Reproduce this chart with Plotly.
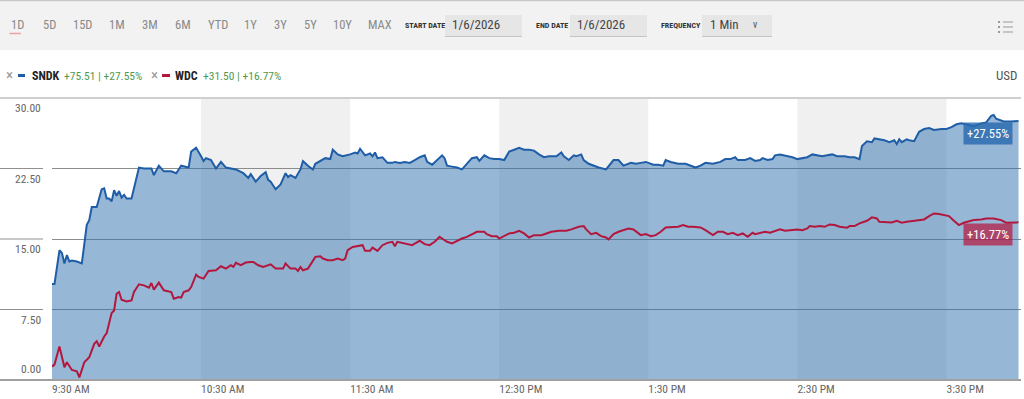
import pandas as pd
import plotly.graph_objects as go

# ---------------- data (percent change since 9:30 open, 1/6/2026) ----------------
sndk_minute = [0, 1, 3, 4, 5, 6, 7, 8, 10, 12, 14, 15, 16, 18, 20, 21, 22, 23, 24, 25, 26, 27, 28, 29, 30, 32,
               35, 37, 40, 41, 43, 45, 48, 50, 52, 55, 56, 58, 60, 61, 62, 64, 66, 68, 70, 72, 74, 77, 79, 80,
               82, 84, 86, 87, 88, 90, 92, 94, 95, 96, 98, 100, 101, 103, 105, 106, 108, 110, 112, 113, 115,
               117, 120, 122, 123, 124, 126, 128, 129, 130, 131, 133, 135, 137, 138, 140, 142, 144, 146, 148,
               150, 151, 153, 155, 157, 158, 159, 161, 163, 165, 167, 169, 171, 172, 174, 176, 178, 180, 182,
               184, 186, 188, 190, 192, 194, 196, 198, 200, 203, 205, 206, 208, 210, 211, 213, 214, 216, 218,
               220, 223, 225, 226, 228, 230, 233, 235, 237, 239, 242, 244, 246, 247, 249, 252, 255, 257, 259,
               261, 263, 266, 269, 271, 273, 275, 276, 279, 281, 283, 285, 286, 288, 290, 291, 293, 295, 298,
               300, 302, 304, 306, 308, 310, 312, 314, 316, 319, 321, 323, 325, 326, 328, 330, 331, 333, 335,
               337, 339, 340, 341, 342, 344, 345, 347, 349, 351, 353, 355, 358, 360, 362, 364, 366, 368, 371,
               374, 376, 378, 379, 380, 383, 386, 388, 389]
sndk_pct = [10.2, 10.2, 13.8, 13.5, 12.4, 13.3, 12.6, 12.7, 12.6, 12.4, 16.5, 17.0, 18.4, 18.4, 20.3, 20.4, 19.3,
            19.3, 19.0, 20.2, 19.6, 20.1, 19.4, 19.7, 19.3, 19.3, 22.6, 22.5, 22.5, 21.8, 22.8, 22.2, 22.2,
            22.0, 22.8, 22.6, 24.3, 24.7, 23.8, 23.3, 23.6, 23.4, 22.5, 23.2, 22.6, 22.5, 22.4, 22.0, 21.5,
            21.9, 21.1, 21.7, 22.1, 21.3, 21.1, 20.3, 20.8, 22.0, 21.6, 21.8, 21.5, 22.4, 23.3, 22.8, 22.4,
            23.0, 23.3, 23.6, 23.5, 24.5, 24.0, 23.8, 24.0, 24.2, 24.1, 24.6, 23.9, 24.1, 23.8, 24.2, 23.6,
            23.7, 23.1, 23.1, 23.2, 23.1, 23.2, 23.1, 23.4, 23.7, 23.9, 23.2, 22.9, 23.4, 23.9, 23.6, 22.8,
            22.7, 22.6, 22.4, 23.0, 23.6, 23.7, 23.3, 23.9, 23.6, 23.5, 23.5, 23.4, 24.3, 24.5, 24.7, 24.5,
            24.5, 24.4, 24.0, 23.7, 23.8, 23.8, 24.2, 23.8, 23.4, 23.9, 23.8, 24.0, 23.4, 23.0, 22.8, 22.6,
            22.4, 23.0, 23.4, 23.4, 22.8, 23.1, 23.0, 23.1, 23.2, 22.9, 22.9, 22.8, 23.4, 23.2, 23.0, 23.0,
            22.8, 22.6, 22.8, 23.1, 23.0, 23.2, 23.5, 23.5, 23.7, 23.4, 23.4, 23.6, 23.3, 23.4, 23.6, 23.4,
            23.5, 23.9, 24.0, 23.9, 23.7, 23.5, 23.6, 23.7, 24.0, 23.9, 23.8, 23.9, 24.0, 23.8, 23.8, 23.7,
            23.7, 23.5, 24.9, 25.4, 25.3, 25.7, 25.6, 25.5, 25.3, 25.5, 25.1, 25.6, 25.3, 25.6, 25.5, 25.4,
            26.4, 26.7, 26.8, 26.6, 26.7, 26.7, 26.9, 27.2, 27.3, 27.2, 27.0, 27.3, 27.4, 28.1, 28.2, 27.8,
            27.5, 27.5, 27.5, 27.55]

wdc_minute = [0, 1, 3, 4, 5, 6, 7, 8, 10, 11, 12, 13, 15, 17, 18, 19, 21, 22, 24, 25, 26, 27, 28, 30, 32, 33,
              35, 37, 39, 40, 41, 43, 45, 46, 48, 49, 51, 52, 53, 55, 56, 58, 59, 61, 63, 66, 68, 70, 72, 73,
              74, 76, 78, 80, 81, 83, 85, 88, 90, 92, 93, 94, 96, 98, 99, 100, 101, 103, 104, 106, 108, 109,
              111, 113, 115, 117, 118, 119, 121, 123, 125, 126, 128, 129, 131, 133, 135, 137, 138, 139, 141,
              143, 145, 146, 148, 150, 152, 154, 156, 157, 159, 161, 163, 165, 167, 169, 171, 174, 175, 177,
              179, 180, 182, 184, 186, 188, 190, 192, 194, 197, 199, 201, 204, 207, 209, 211, 212, 214, 215,
              217, 219, 221, 223, 224, 226, 228, 230, 232, 234, 236, 237, 239, 241, 243, 245, 247, 250, 252,
              254, 256, 258, 261, 263, 266, 268, 270, 272, 274, 276, 278, 280, 282, 283, 285, 287, 289, 291,
              293, 295, 298, 300, 302, 304, 305, 307, 309, 311, 313, 315, 317, 320, 321, 323, 325, 328, 330,
              332, 333, 336, 338, 340, 342, 344, 347, 349, 351, 353, 355, 357, 360, 361, 363, 365, 367, 369,
              371, 374, 376, 379, 382, 384, 387, 389]
wdc_pct = [1.42, 1.64, 3.56, 2.42, 1.35, 1.89, 1.53, 1.07, 0.93, 0.28, 1.07, 1.89, 2.42, 3.84, 4.13, 3.56, 4.63,
           4.98, 7.12, 7.40, 9.18, 9.36, 8.54, 8.36, 8.47, 9.36, 10.18, 10.07, 9.82, 10.32, 9.61, 10.36, 9.54,
           9.47, 9.36, 8.65, 8.83, 8.76, 9.36, 9.54, 9.89, 11.21, 10.96, 10.78, 11.60, 11.67, 12.10, 11.85,
           12.21, 12.03, 12.46, 12.21, 12.49, 12.56, 12.56, 12.21, 12.03, 12.31, 11.85, 11.85, 11.85, 12.39,
           11.85, 11.85, 11.60, 12.03, 11.67, 11.85, 12.31, 13.10, 13.17, 12.92, 12.74, 12.74, 12.92, 12.74,
           12.92, 13.81, 14.16, 14.24, 14.34, 13.74, 13.74, 14.09, 13.74, 14.34, 14.59, 14.70, 14.24, 14.70,
           14.59, 14.52, 14.34, 14.52, 14.81, 14.45, 14.34, 14.70, 15.23, 15.05, 14.70, 14.52, 14.81, 15.05,
           15.23, 15.52, 15.77, 15.77, 15.52, 15.30, 15.30, 15.05, 15.34, 15.59, 15.66, 15.87, 15.59, 15.16,
           15.41, 15.41, 15.59, 15.77, 15.87, 15.87, 16.02, 16.23, 16.30, 16.37, 16.02, 15.52, 15.66, 15.30,
           15.16, 14.95, 15.52, 15.77, 15.94, 16.12, 16.02, 15.59, 15.41, 15.52, 15.30, 15.41, 15.77, 16.23,
           16.30, 16.30, 16.48, 16.30, 16.30, 16.23, 15.94, 15.41, 15.77, 15.77, 15.52, 15.66, 15.41, 15.59,
           15.23, 15.66, 15.52, 15.62, 15.77, 15.66, 15.87, 16.02, 15.87, 15.94, 16.02, 15.94, 16.12, 16.37,
           16.30, 16.37, 16.30, 16.55, 16.48, 16.30, 16.19, 16.37, 16.37, 16.66, 16.94, 17.30, 17.19, 16.83,
           16.83, 16.76, 16.94, 16.73, 16.83, 16.94, 17.01, 17.08, 17.44, 17.72, 17.65, 17.55, 17.44, 16.94,
           16.48, 16.73, 16.90, 17.01, 17.08, 17.19, 17.19, 17.01, 16.73, 16.73, 16.77]

session_date = "2026-01-06"
session_open = "09:30"
session_close = "16:00"
x_tick_times = ["09:30", "10:30", "11:30", "12:30", "13:30", "14:30", "15:30"]
x_tick_labels = ["9:30 AM", "10:30 AM", "11:30 AM", "12:30 PM", "1:30 PM", "2:30 PM", "3:30 PM"]
shaded_hours = [("10:30", "11:30"), ("12:30", "13:30"), ("14:30", "15:30")]
y_ticks = [0, 7.5, 15, 22.5, 30]
y_tick_labels = ["0.00", "7.50", "15.00", "22.50", "30.00"]

legend_names = ["SNDK", "WDC"]
legend_changes = ["+75.51 | +27.55%", "+31.50 | +16.77%"]
end_labels = ["+27.55%", "+16.77%"]
range_tabs = ["1D", "5D", "15D", "1M", "3M", "6M", "YTD", "1Y", "3Y", "5Y", "10Y", "MAX"]
start_date_text = "1/6/2026"
end_date_text = "1/6/2026"
frequency_text = "1 Min"
currency_text = "USD"

# ---------------- styles / layout ----------------
FONT = "Roboto Condensed, Liberation Sans Narrow, DejaVu Sans Condensed, Roboto, sans-serif"
BLUE = "#1f5da6"
RED = "#b3173d"
W, H = 1024, 399
ML, MR, MT, MB = 52, 3, 98, 19
PW, PH = W - ML - MR, H - MT - MB


def px(x):
    return (x - ML) / PW


def py(y):
    return (H - MB - y) / PH


base = pd.Timestamp(f"{session_date} {session_open}")
sndk_t = [base + pd.Timedelta(minutes=m) for m in sndk_minute]
wdc_t = [base + pd.Timedelta(minutes=m) for m in wdc_minute]


def ts(hhmm):
    return f"{session_date} {hhmm}"


fig = go.Figure()
fig.add_trace(go.Scatter(x=sndk_t, y=sndk_pct, mode="lines", fill="tozeroy",
                         fillcolor="rgba(47,111,175,0.5)", line=dict(color=BLUE, width=2),
                         name="SNDK", hoverinfo="skip"))
fig.add_trace(go.Scatter(x=wdc_t, y=wdc_pct, mode="lines", line=dict(color=RED, width=2),
                         name="WDC", hoverinfo="skip"))

shapes = []
# toolbar background
shapes.append(dict(type="rect", xref="paper", yref="paper", x0=px(0), x1=px(W), y0=py(50), y1=py(0),
                   fillcolor="#f2f2f2", line=dict(width=0), layer="below"))
shapes.append(dict(type="line", xref="paper", yref="paper", x0=px(0), x1=px(W), y0=py(0.5), y1=py(0.5),
                   line=dict(color="#c8c8c8", width=1.5), layer="below"))
# input boxes
for x0, x1 in [(445, 522), (570, 647), (702, 772)]:
    shapes.append(dict(type="rect", xref="paper", yref="paper", x0=px(x0), x1=px(x1), y0=py(37), y1=py(15),
                       fillcolor="#e6e6e6", line=dict(width=0), layer="below"))
    shapes.append(dict(type="line", xref="paper", yref="paper", x0=px(x0), x1=px(x1), y0=py(36.5), y1=py(36.5),
                       line=dict(color="#c4c4c4", width=1), layer="below"))
# 1D underline
shapes.append(dict(type="line", xref="paper", yref="paper", x0=px(9.5), x1=px(21), y0=py(33.5), y1=py(33.5),
                   line=dict(color="#f2a0a8", width=1.5)))
# menu icon
for yy in [22, 27, 32]:
    shapes.append(dict(type="rect", xref="paper", yref="paper", x0=px(998), x1=px(1000), y0=py(yy + 1),
                       y1=py(yy - 1), fillcolor="#999", line=dict(width=0)))
    shapes.append(dict(type="line", xref="paper", yref="paper", x0=px(1003), x1=px(1013), y0=py(yy), y1=py(yy),
                       line=dict(color="#999", width=1)))
# legend dashes
for (x0, x1), c in zip([(18, 25), (162, 170)], [BLUE, RED]):
    shapes.append(dict(type="line", xref="paper", yref="paper", x0=px(x0), x1=px(x1), y0=py(75.5), y1=py(75.5),
                       line=dict(color=c, width=3)))
# shaded hour bands
for a, b in shaded_hours:
    shapes.append(dict(type="rect", xref="x", yref="y", x0=ts(a), x1=ts(b), y0=y_ticks[0], y1=y_ticks[-1],
                       fillcolor="#f0f0f0", line=dict(width=0), layer="below"))
# gridline stubs in the label gutter + top/bottom rules
ymin, ymax = y_ticks[0], y_ticks[-1]
for v in y_ticks:
    f = (v - ymin) / (ymax - ymin)
    if v == ymax:
        shapes.append(dict(type="line", xref="paper", yref="paper", x0=px(0), x1=1, y0=f, y1=f,
                           line=dict(color="#cfcfcf", width=2)))
    elif v == ymin:
        shapes.append(dict(type="line", xref="paper", yref="paper", x0=px(0), x1=1, y0=f, y1=f,
                           line=dict(color="#a0a0a0", width=2)))
    else:
        shapes.append(dict(type="line", xref="paper", yref="paper", x0=px(0), x1=px(43), y0=f, y1=f,
                           line=dict(color="#909090", width=1)))

ann = []
# range tabs
tab_x = [9, 41, 71, 107, 140, 173, 206, 242, 272, 302, 331, 366]
for t, x in zip(range_tabs, tab_x):
    ann.append(dict(xref="paper", yref="paper", x=px(x), y=py(25), xanchor="left", yanchor="middle",
                    text=t, showarrow=False, font=dict(family=FONT, size=12.5, color="#8a8a8a")))
for t, x in [("START DATE", 403), ("END DATE", 534), ("FREQUENCY", 659)]:
    ann.append(dict(xref="paper", yref="paper", x=px(x), y=py(25.5), xanchor="left", yanchor="middle",
                    text=f"<b>{t}</b>", showarrow=False, font=dict(family=FONT, size=8, color="#333")))
for t, x in [(start_date_text, 450), (end_date_text, 575), (frequency_text, 708)]:
    ann.append(dict(xref="paper", yref="paper", x=px(x), y=py(25), xanchor="left", yanchor="middle",
                    text=t, showarrow=False, font=dict(family=FONT, size=13, color="#444")))
ann.append(dict(xref="paper", yref="paper", x=px(755), y=py(25), xanchor="center", yanchor="middle",
                text="v", showarrow=False, font=dict(family=FONT, size=10, color="#555")))
# legend row
for (xx, xn, xc), name, chg in zip([(4, 30, 62), (149, 173, 201)], legend_names, legend_changes):
    ann.append(dict(xref="paper", yref="paper", x=px(xx), y=py(75), xanchor="left", yanchor="middle",
                    text="×", showarrow=False, font=dict(family=FONT, size=15, color="#999")))
    ann.append(dict(xref="paper", yref="paper", x=px(xn), y=py(75.5), xanchor="left", yanchor="middle",
                    text=f"<b>{name}</b>", showarrow=False, font=dict(family=FONT, size=12, color="#222")))
    ann.append(dict(xref="paper", yref="paper", x=px(xc), y=py(75.5), xanchor="left", yanchor="middle",
                    text=chg, showarrow=False, font=dict(family=FONT, size=11.5, color="#4f9a4f")))
ann.append(dict(xref="paper", yref="paper", x=px(1019), y=py(75.5), xanchor="right", yanchor="middle",
                text=currency_text, showarrow=False, font=dict(family=FONT, size=13, color="#555")))
# y tick labels (sit just below their gridlines)
for v, lab in zip(y_ticks, y_tick_labels):
    if v == ymin:
        ann.append(dict(xref="paper", yref="y", x=px(43), y=v, xanchor="right", yanchor="bottom", yshift=2,
                        text=lab, showarrow=False, font=dict(family=FONT, size=11.5, color="#666")))
    else:
        ann.append(dict(xref="paper", yref="y", x=px(43), y=v, xanchor="right", yanchor="top", yshift=-1,
                        text=lab, showarrow=False, font=dict(family=FONT, size=11.5, color="#666")))
# end-of-line value labels
for t_list, v_list, lab, bg in [(sndk_t, sndk_pct, end_labels[0], "rgba(40,105,175,0.82)"),
                                (wdc_t, wdc_pct, end_labels[1], "rgba(181,23,63,0.72)")]:
    ann.append(dict(xref="x", yref="y", x=t_list[-1], y=v_list[-1], xanchor="right", yanchor="top",
                    xshift=-6, yshift=-1, text=lab, showarrow=False, bgcolor=bg, borderpad=3,
                    font=dict(family=FONT, size=12.5, color="white")))

fig.update_layout(
    width=W, height=H, margin=dict(l=ML, r=MR, t=MT, b=MB),
    paper_bgcolor="white", plot_bgcolor="rgba(0,0,0,0)",
    showlegend=False, shapes=shapes, annotations=ann,
    font=dict(family=FONT),
    xaxis=dict(range=[ts(session_open), ts(session_close)], tickvals=[ts(t) for t in x_tick_times],
               ticktext=x_tick_labels, ticklabelposition="outside right", showgrid=False, zeroline=False,
               showline=False, ticks="", tickfont=dict(family=FONT, size=11.5, color="#666")),
    yaxis=dict(range=[ymin, ymax], tickvals=y_ticks[1:-1], showticklabels=False, showgrid=True,
               gridcolor="#8c8c8c", gridwidth=1, zeroline=False, showline=False, ticks=""),
)

fig.write_html("out.html")
